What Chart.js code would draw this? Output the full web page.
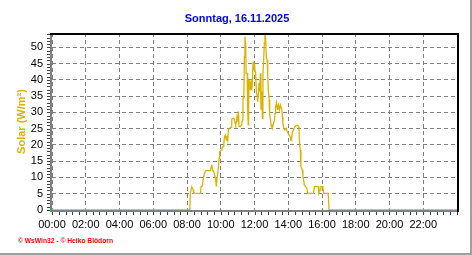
<!DOCTYPE html>
<html lang="de">
<head>
    <meta charset="UTF-8">
    <title>Solar - Sonntag, 16.11.2025</title>
    <style>
        html, body { margin: 0; padding: 0; background: #ffffff; }
        #rahmen { width: 472px; height: 255px; }
    </style>
</head>
<body>
    <div id="rahmen"><canvas id="solarChart" width="472" height="255"></canvas></div>

    <script src="https://cdn.jsdelivr.net/npm/chart.js@4"></script>
    <script>
        // Texte
        const titel = 'Sonntag, 16.11.2025';
        const achsenTitel = 'Solar (W/m²)';
        const fussText = '© WsWin32 - © Heiko Blödorn';

        // Achsenbeschriftung
        const zeitTicks = ['00:00', '02:00', '04:00', '06:00', '08:00', '10:00', '12:00',
                           '14:00', '16:00', '18:00', '20:00', '22:00'];
        const solarTicks = [0, 5, 10, 15, 20, 25, 30, 35, 40, 45, 50];

        const zeiten = [
            '00:00', '08:10', '08:12', '08:17', '08:22', '08:24', '08:48', '08:50', '08:55', '08:57',
            '09:02', '09:07', '09:23', '09:26', '09:28', '09:31', '09:35', '09:38', '09:42', '09:44',
            '09:49', '09:52', '09:54', '09:56', '10:01', '10:04', '10:08', '10:11', '10:13', '10:16',
            '10:20', '10:22', '10:25', '10:27', '10:32', '10:37', '10:39', '10:44', '10:49', '10:51',
            '10:53', '10:56', '10:58', '11:01', '11:03', '11:05', '11:10', '11:14', '11:17', '11:19',
            '11:22', '11:24', '11:26', '11:29', '11:30', '11:34', '11:36', '11:38', '11:39', '11:41',
            '11:43', '11:46', '11:48', '11:50', '11:52', '11:55', '11:57', '12:00', '12:02', '12:04',
            '12:07', '12:09', '12:11', '12:14', '12:16', '12:18', '12:21', '12:23', '12:26', '12:28',
            '12:30', '12:33', '12:35', '12:37', '12:40', '12:42', '12:45', '12:47', '12:49', '12:52',
            '12:54', '12:56', '12:59', '13:01', '13:03', '13:06', '13:11', '13:13', '13:15', '13:18',
            '13:20', '13:22', '13:25', '13:29', '13:32', '13:37', '13:39', '13:41', '13:44', '13:48',
            '13:53', '13:56', '14:00', '14:03', '14:07', '14:10', '14:12', '14:14', '14:19', '14:24',
            '14:29', '14:33', '14:38', '14:40', '14:43', '14:45', '14:50', '14:52', '14:55', '14:57',
            '15:02', '15:06', '15:09', '15:30', '15:33', '15:47', '15:49', '15:54', '15:56', '16:03',
            '16:06', '16:22', '16:25', '24:00'
        ];
        const solar = [
            0, 0, 5.3, 7.2, 6.2, 5.1, 5.1, 7.2, 7.4, 9.2,
            11.3, 12.1, 12.1, 13.3, 14.0, 12.3, 11.8, 10.8, 9.7, 7.2,
            11.3, 13.3, 15.9, 17.9, 18.4, 19.0, 19.5, 20.5, 22.6, 23.0,
            21.5, 22.8, 21.5, 24.8, 25.1, 25.4, 27.9, 28.2, 27.9, 26.7,
            26.2, 27.2, 28.7, 27.7, 30.3, 25.6, 25.6, 26.2, 27.7, 34.4,
            34.4, 47.2, 53.3, 50.3, 42.0, 42.0, 29.7, 26.2, 31.8, 40.0,
            36.9, 39.5, 36.9, 40.0, 39.0, 45.6, 43.0, 45.0, 42.5, 42.0,
            35.9, 35.4, 33.3, 35.9, 39.0, 36.4, 42.0, 30.8, 36.4, 28.2,
            41.5, 47.2, 51.3, 54.4, 52.0, 46.7, 46.2, 42.0, 36.9, 33.8,
            29.2, 28.2, 26.2, 25.6, 25.1, 26.2, 27.7, 29.7, 31.6, 33.0,
            31.8, 30.8, 32.3, 30.8, 32.3, 30.8, 28.7, 26.7, 25.1, 24.6,
            25.1, 24.1, 23.6, 23.0, 22.6, 21.3, 22.0, 23.6, 24.8, 25.6,
            26.0, 26.0, 25.5, 20.5, 18.5, 13.3, 12.3, 10.3, 9.2, 7.7,
            7.2, 6.7, 5.1, 5.1, 7.2, 7.2, 5.1, 6.2, 7.2, 7.2,
            5.1, 5.1, 0, 0
        ];

        const gelb = '#dcb400';
        const grau = '#808080';

        function inStunden(t) {
            const [h, m] = t.split(':').map(Number);
            return h + m / 60;
        }

        const punkte = zeiten.map((t, i) => ({ x: inStunden(t), y: solar[i] }));

        // Achsen, Rahmen, Titel und Fusszeile
        const wswinRahmen = {
            id: 'wswinRahmen',
            beforeDatasetsDraw(chart) {
                const { ctx, chartArea: a, scales } = chart;
                ctx.save();
                ctx.fillStyle = grau;
                ctx.fillRect(a.left - 2, a.top, 2, a.bottom - a.top + 2);
                ctx.fillRect(a.left - 2, a.bottom, a.right - a.left + 2, 2);

                ctx.strokeStyle = '#404040';
                ctx.lineWidth = 1;
                ctx.beginPath();
                for (let h = 0; h <= 24.001; h += 0.4) {
                    const x = Math.round(scales.x.getPixelForValue(h)) + 0.5;
                    ctx.moveTo(x, a.bottom + 2);
                    ctx.lineTo(x, a.bottom + 5);
                }
                for (let v = 0; v <= 54; v++) {
                    const y = Math.round(scales.y.getPixelForValue(v)) + 0.5;
                    ctx.moveTo(a.left - 5, y);
                    ctx.lineTo(a.left - 2, y);
                }
                ctx.stroke();
                ctx.restore();
            },
            afterDraw(chart) {
                const { ctx, chartArea: a } = chart;
                ctx.save();
                ctx.fillStyle = '#000000';
                ctx.fillRect(a.left - 2, a.top, a.right - a.left + 4, 2);
                ctx.fillRect(a.right, a.top, 2, a.bottom - a.top + 2);

                ctx.fillStyle = '#a0a0a0';
                ctx.fillRect(470, 0, 2, 255);
                ctx.fillRect(0, 253, 472, 2);

                ctx.fillStyle = '#0000ff';
                ctx.font = 'bold 11px "Liberation Sans", Arial, sans-serif';
                ctx.textAlign = 'center';
                ctx.textBaseline = 'middle';
                ctx.fillText(titel, 237, 19);

                ctx.fillStyle = '#ff0000';
                ctx.font = 'bold 7px "Liberation Sans", Arial, sans-serif';
                ctx.textAlign = 'left';
                ctx.textBaseline = 'alphabetic';
                ctx.fillText(fussText, 18, 243, 95);
                ctx.restore();
            }
        };

        const tickFont = { family: '"Liberation Sans", Arial, sans-serif', size: 11 };

        const ctx = document.getElementById('solarChart').getContext('2d');
        const solarChart = new Chart(ctx, {
            type: 'line',
            data: {
                datasets: [{
                    label: achsenTitel,
                    data: punkte,
                    borderColor: gelb,
                    borderWidth: 1.3,
                    pointRadius: 0,
                    tension: 0,
                    fill: false
                }]
            },
            options: {
                responsive: false,
                animation: false,
                layout: { padding: { top: 33, right: 15, left: 0, bottom: 0 } },
                plugins: {
                    legend: { display: false },
                    tooltip: { enabled: false },
                    title: { display: false }
                },
                scales: {
                    x: {
                        type: 'linear',
                        min: 0,
                        max: 24,
                        afterBuildTicks: s => { s.ticks = zeitTicks.map((l, i) => ({ value: i * 2 })); },
                        afterFit: s => { s.height = 45; },
                        ticks: {
                            callback: v => zeitTicks[Math.round(v / 2)],
                            color: '#000000',
                            font: tickFont,
                            padding: 8,
                            maxRotation: 0,
                            autoSkip: false
                        },
                        grid: { color: grau, drawTicks: false },
                        border: { display: false, dash: [4, 3] }
                    },
                    y: {
                        min: 0,
                        max: 54.4,
                        afterBuildTicks: s => { s.ticks = solarTicks.map(v => ({ value: v })); },
                        afterFit: s => { s.width = 52; },
                        ticks: {
                            color: '#000000',
                            font: tickFont,
                            padding: 9
                        },
                        grid: { color: grau, drawTicks: false },
                        border: { display: false, dash: [4, 3] },
                        title: {
                            display: true,
                            text: achsenTitel,
                            color: gelb,
                            font: { family: '"Liberation Sans", Arial, sans-serif', size: 11, weight: 'bold' },
                            padding: { top: 15, bottom: 0 }
                        }
                    }
                }
            },
            plugins: [wswinRahmen]
        });
    </script>
</body>
</html>
